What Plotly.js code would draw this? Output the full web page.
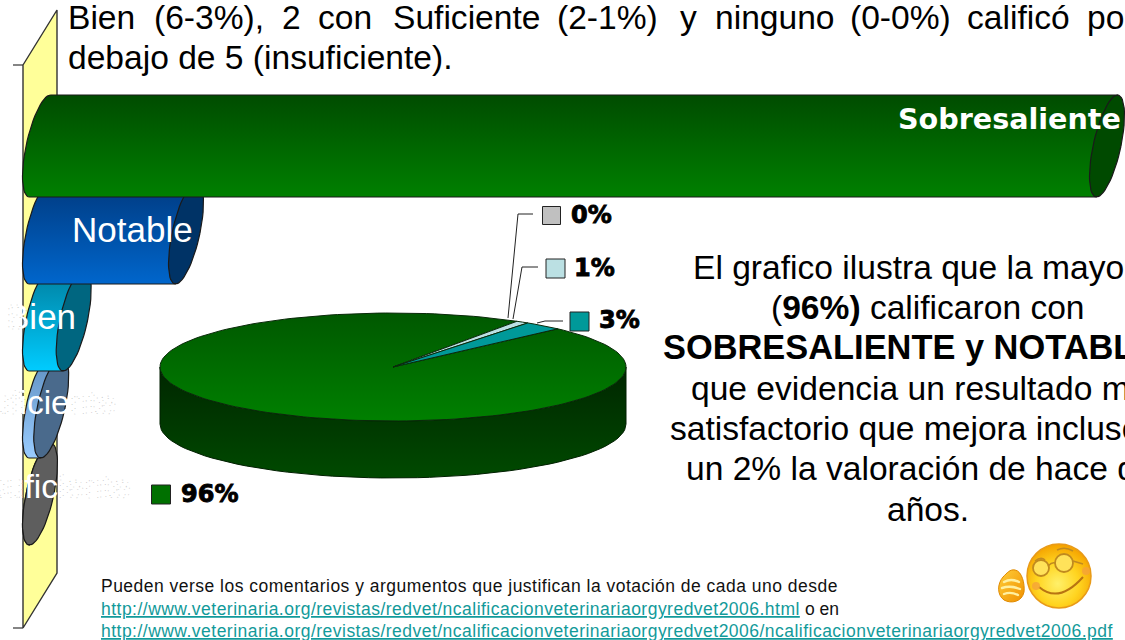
<!DOCTYPE html>
<html><head><meta charset="utf-8">
<script src="https://cdn.plot.ly/plotly-3.0.1.min.js"></script>
<style>html,body{margin:0;padding:0;background:#fff;overflow:hidden}#c{width:1125px;height:640px}
text[data-unformatted^="http"],text[data-unformatted^="Pueden"]{letter-spacing:.48px}</style>
</head><body><div id="c"></div>
<script>
// ---- data ----
const categories = ['Sobresaliente','Notable','Bien','Suficiente','Insuficiente'];
const counts     = [190, 26, 6, 2, 0];
const bodyTop    = ['#004c00','#003a80','#007f9f','#5f8fc0','#606060'];
const bodyBottom = ['#008000','#0066cc','#00ccff','#99ccff','#606060'];
const capColors  = ['#004a00','#003366','#006680','#4a6a8c','#5e5e5e'];
const pieNames   = ['Sobresaliente y Notable','Insuficiente','Suficiente','Bien'];
const pieValues  = [216, 0, 2, 6];
const pieColors  = ['#007000','#c0c0c0','#bbe0e3','#009999'];
const introWords = ['Bien','(6-3%),','2','con','Suficiente','(2-1%)','y','ninguno','(0-0%)','calificó','por'];
const introLine2 = 'debajo de 5 (insuficiente).';
const blockLines = ['El grafico ilustra que la mayoría','(<b>96%)</b> calificaron con','<b>SOBRESALIENTE y NOTABLE</b> lo','que evidencia un resultado muy','satisfactorio que mejora incluso en','un 2% la valoración de hace dos','años.'];
const noteLine   = 'Pueden verse los comentarios y argumentos que justifican la votación de cada uno desde';
const link1      = 'http://www.veterinaria.org/revistas/redvet/ncalificacionveterinariaorgyredvet2006.html';
const link2      = 'http://www.veterinaria.org/revistas/redvet/ncalificacionveterinariaorgyredvet2006/ncalificacionveterinariaorgyredvet2006.pdf';

// ---- layout geometry ----
const W = 1125, H = 640, zeroPx = 40, maxPx = 1107;
const pxPerUnit = (maxPx - zeroPx) / Math.max(...counts);
const barCy0 = 146, barStep = 87, barH = 51, capR = 14, capS = 10.5;
const pie = {cx: 393, cy: 367, rx: 233, ry: 54, depth: 57, start: 45};
const FONT = 'Liberation Sans, Arial, sans-serif', BOLD = 'DejaVu Sans, Verdana, sans-serif';
const traces = [];

// back wall
traces.push({x:[23,57,57,23,23], y:[65,10,573,628,65], mode:'lines', fill:'toself',
  fillcolor:'#ffff99', line:{color:'#333',width:1.4}, hoverinfo:'skip'});
traces.push({x:[13,23,null,13,23], y:[65,65,null,628,628], mode:'lines', line:{color:'#333',width:1.2}, hoverinfo:'skip'});

// pie (flattened disc) from its shares
const total = pieValues.reduce((a,b)=>a+b,0);
const ell = (t,dy=0)=>[pie.cx+pie.rx*Math.cos(t*Math.PI/180), pie.cy+dy-pie.ry*Math.sin(t*Math.PI/180)];
const sideX=[],sideY=[];
for(let t=180;t<=360;t+=3){const p=ell(t);sideX.push(p[0]);sideY.push(p[1]);}
for(let t=360;t>=180;t-=3){const p=ell(t,pie.depth);sideX.push(p[0]);sideY.push(p[1]);}
sideX.push(sideX[0]);sideY.push(sideY[0]);
traces.push({x:sideX,y:sideY,mode:'lines',fill:'toself',line:{color:'#001f00',width:1},hoverinfo:'skip',
  fillcolor:'#003a00',
  fillgradient:{type:'vertical',colorscale:[[0,'#004a00'],[1,'#002600']]}});
let ang = pie.start;
pieValues.forEach((v,i)=>{
  const sweep = v/total*360;
  if(sweep<=0) return;
  const xs=[pie.cx],ys=[pie.cy],n=Math.max(2,Math.ceil(sweep/2));
  for(let k=0;k<=n;k++){const p=ell(ang-sweep*k/n);xs.push(p[0]);ys.push(p[1]);}
  xs.push(pie.cx);ys.push(pie.cy);
  const tr={x:xs,y:ys,mode:'lines',fill:'toself',fillcolor:pieColors[i],name:pieNames[i],
    line:{color:'#0a2a0a',width:1},hoverinfo:'skip'};
  if(i===0) tr.fillgradient={type:'vertical',colorscale:[[0,'#008000'],[1,'#005800']]};
  traces.push(tr);
  ang-=sweep;
});
// leader lines
traces.push({x:[533,518,508,null,538,522,513,null,563,545,537],
  y:[214,214,318,null,267,267,319,null,321,321,323],mode:'lines',line:{color:'#222',width:1},hoverinfo:'skip'});
// pie legend keys
const keyX=[161,551.5,555.5,579.5], keyY=[494.5,215.5,268.5,321.5];
traces.push({x:keyX,y:keyY,mode:'markers',hoverinfo:'skip',
  marker:{symbol:'square',opacity:1,size:[19,18,19,19],color:pieColors,line:{color:'#222',width:1}}});

// cylinders, drawn from the counts on a value axis (x2), back to front
const toU = px => px/pxPerUnit;
for(let i=categories.length-1;i>=0;i--){
  const v=counts[i], cy=barCy0+i*barStep;
  const bx=[],by=[];
  for(let t=90;t<=270;t+=6){const a=t*Math.PI/180;
    bx.push(toU(capR*Math.cos(a)+capS*Math.sin(a)));by.push(cy-barH*Math.sin(a));}
  bx.push(v+toU(-capS),v+toU(capS),bx[0]);by.push(cy+barH,cy-barH,by[0]);
  traces.push({x:bx,y:by,xaxis:'x2',yaxis:'y',mode:'lines',fill:'toself',name:categories[i],
    fillcolor:bodyBottom[i],line:{color:'#1a1a1a',width:1.2},hoverinfo:'skip',
    fillgradient:{type:'vertical',colorscale:[[0,bodyBottom[i]],[1,bodyTop[i]]]}});
  const cx=[],cyy=[];
  for(let t=0;t<=360;t+=6){const a=t*Math.PI/180;
    cx.push(v+toU(capR*Math.cos(a)+capS*Math.sin(a)));cyy.push(cy-barH*Math.sin(a));}
  traces.push({x:cx,y:cyy,xaxis:'x2',yaxis:'y',mode:'lines',fill:'toself',fillcolor:capColors[i],
    line:{color:'#1a1a1a',width:1.2},hoverinfo:'skip'});
}

// text
const ann=[];
const T=(x,y,text,size,opt={})=>ann.push(Object.assign({x,y,xref:'x',yref:'y',text,showarrow:false,
  xanchor:'left',yanchor:'middle',borderpad:0,font:{family:FONT,size,color:'#000'}},opt));
const introX=[67,153,281,317,392,556,679,714,849,966,1086];
introWords.forEach((w,i)=>T(introX[i],17,w,33.6));
T(67,57,introLine2,33.6);
const blockY=[267,307,347,388,428,468,509];
blockLines.forEach((l,i)=>T(928,blockY[i],l,i===2?34.4:33.6,{xanchor:'center'}));
const faint=s=>'<span style="fill:#ffffff;stroke:#bdbdbd;stroke-width:.6;stroke-dasharray:1 5">'+s+'</span>';
const white={family:FONT,size:33.6,color:'#fff'};
T(1122,119,'<b>'+categories[0]+'</b>',28.6,{xanchor:'right',font:{family:BOLD,size:28.6,color:'#fff'}});
T(132,229,categories[1],35,{xanchor:'center',font:{family:FONT,size:35,color:'#fff'}});
T(41,316,faint('B')+'ien',35,{xanchor:'center',font:{family:FONT,size:35,color:'#fff'}});
T(43,402,faint('Sufi')+'cie'+faint('nte'),33.6,{xanchor:'center',font:white});
T(46,486,faint('Insu')+'fic'+faint('iente'),33.6,{xanchor:'center',font:white});
const pct=pieValues.map(v=>Math.round(v/total*100)+'%');
const lblX=[180,570,573,598], lblY=[494,215,268,320];
const heavy=s=>'<span style="stroke:#000;stroke-width:.9">'+s+'</span>';
pct.forEach((p,i)=>T(lblX[i],lblY[i],'<b>'+heavy(p)+'</b>',24,{font:{family:BOLD,size:24,color:'#000'}}));
const small={family:FONT,size:17.5,color:'#111'};
const linkF={family:FONT,size:17.5,color:'#129a9a',lineposition:'under'};
T(100,586,noteLine,17.5,{font:small});
T(100,609,link1,17.5,{font:linkF});
T(804,609,'o en',17.5,{font:small});
T(100,631,link2,17.5,{font:linkF});

// smiley
const svg=`<svg xmlns="http://www.w3.org/2000/svg" width="100" height="72" viewBox="0 0 100 72">
<defs><radialGradient id="g" cx="48%" cy="62%" r="60%"><stop offset="0" stop-color="#fff06a"/><stop offset=".55" stop-color="#ffd420"/><stop offset="1" stop-color="#f5a400"/></radialGradient>
<linearGradient id="h" x1="0" y1="0" x2="1" y2="1"><stop offset="0" stop-color="#ffcf3a"/><stop offset="1" stop-color="#f09000"/></linearGradient></defs>
<circle cx="64" cy="36" r="32" fill="url(#g)" stroke="#e89a18" stroke-width="1.5"/>
<path d="M20 30 C27 31 30 44 29 52 C27 62 16 64 9 60 C2 55 2 44 8 37 C12 33 15 29 20 30Z" fill="url(#h)" stroke="#e08a00"/>
<path d="M9 42 C14 39 20 40 24 42 M7 48 C13 46 20 47 25 49 M9 54 C14 52 19 53 23 55" stroke="#fff0a0" stroke-width="2.4" fill="none" stroke-linecap="round"/>
<circle cx="46" cy="28" r="8" fill="#ffe25a" stroke="#c08a20" stroke-width="1.8"/>
<circle cx="69" cy="23" r="9" fill="#ffe25a" stroke="#c08a20" stroke-width="1.8"/>
<path d="M53 26 Q57 22 60 23 M78 21 L88 24 M40 21 Q46 16 50 20 M62 10 Q70 6 78 11" stroke="#c08a20" stroke-width="1.6" fill="none"/>
<path d="M44 47 Q64 64 88 37" stroke="#b87412" stroke-width="2" fill="none"/>
<circle cx="41" cy="46" r="4" fill="#f5a23a" opacity=".8"/><circle cx="91" cy="31" r="4" fill="#f5a23a" opacity=".8"/>
</svg>`;

const ax={visible:false,showgrid:false,zeroline:false,fixedrange:true};
Plotly.newPlot('c',traces,{
  width:W,height:H,margin:{l:0,r:0,t:0,b:0},showlegend:false,
  paper_bgcolor:'#fff',plot_bgcolor:'#fff',
  xaxis:Object.assign({range:[0,W]},ax),
  yaxis:Object.assign({range:[H,0]},ax),
  xaxis2:Object.assign({range:[-zeroPx/pxPerUnit,(W-zeroPx)/pxPerUnit],overlaying:'x',anchor:'y'},ax),
  annotations:ann,
  images:[{source:'data:image/svg+xml;charset=utf-8,'+encodeURIComponent(svg),xref:'paper',yref:'paper',
    x:995/W,y:1-540/H,sizex:100/W,sizey:72/H,xanchor:'left',yanchor:'top',sizing:'stretch',layer:'above'}]
},{displayModeBar:false,staticPlot:true});
</script></body></html>
